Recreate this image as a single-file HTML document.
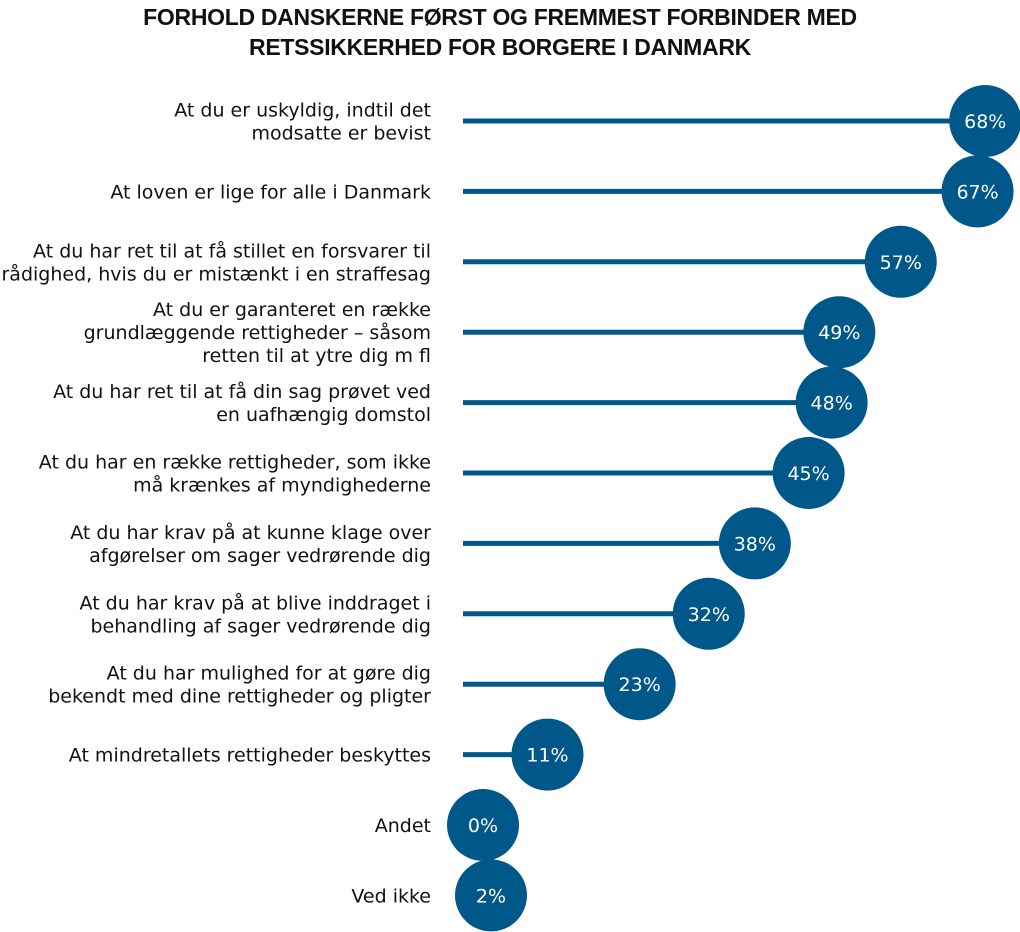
<!DOCTYPE html>
<html><head><meta charset="utf-8"><style>
body{margin:0;background:#fff;width:1020px;height:932px;overflow:hidden;font-family:"DejaVu Sans","Liberation Sans",sans-serif;}
#title{position:absolute;left:0;width:1000px;top:2px;text-align:center;font-family:"Liberation Sans",sans-serif;font-weight:bold;font-size:23px;line-height:30px;color:#111;letter-spacing:-0.3px}
</style></head><body>
<div id="title">FORHOLD DANSKERNE FØRST OG FREMMEST FORBINDER MED<br>RETSSIKKERHED FOR BORGERE I DANMARK</div>
<svg id="chart" width="1020" height="932" style="position:absolute;left:0;top:0"></svg>
<script>
const categories=[["At du er uskyldig, indtil det","modsatte er bevist"],["At loven er lige for alle i Danmark"],["At du har ret til at få stillet en forsvarer til","rådighed, hvis du er mistænkt i en straffesag"],["At du er garanteret en række","grundlæggende rettigheder – såsom","retten til at ytre dig m fl"],["At du har ret til at få din sag prøvet ved","en uafhængig domstol"],["At du har en række rettigheder, som ikke","må krænkes af myndighederne"],["At du har krav på at kunne klage over","afgørelser om sager vedrørende dig"],["At du har krav på at blive inddraget i","behandling af sager vedrørende dig"],["At du har mulighed for at gøre dig","bekendt med dine rettigheder og pligter"],["At mindretallets rettigheder beskyttes"],["Andet"],["Ved ikke"]];
const values=[68,67,57,49,48,45,38,32,23,11,0,2];
const valueLabels=["68%","67%","57%","49%","48%","45%","38%","32%","23%","11%","0%","2%"];
const NS="http://www.w3.org/2000/svg";
const svg=document.getElementById('chart');
const x0=463,k=7.68,y0=121,step=70.4,r=36,col="#00588a";
const xs=v=>x0+v*k;
const ys=i=>y0+i*step;
function mk(t,a){const e=document.createElementNS(NS,t);for(const n in a)e.setAttribute(n,a[n]);svg.appendChild(e);return e;}
values.forEach((v,i)=>{
  const y=ys(i),xe=xs(v);
  const ln=mk('line',{x1:x0,x2:xe,y1:y,y2:y,stroke:col,'stroke-width':5});
  
  
  const cx=Math.max(xe,x0+20+v*4);
  const c=mk('circle',{cx:cx,cy:y,r:r,fill:col});
  
  
  const t=mk('text',{x:cx,y:y+7,'text-anchor':'middle',fill:'#fff','font-size':19});
  t.textContent=valueLabels[i];
  
  
  const lines=categories[i];
  const lh=23;
  const top=y-(lines.length-1)*lh/2+7;
  const lab=mk('text',{x:431,y:top,'text-anchor':'end',fill:'#111','font-size':19});
  
  
  lines.forEach((s,j)=>{const ts=document.createElementNS(NS,'tspan');ts.setAttribute('x',431);ts.setAttribute('y',top+j*lh);ts.textContent=s;lab.appendChild(ts);});
});
</script>
</body></html>
